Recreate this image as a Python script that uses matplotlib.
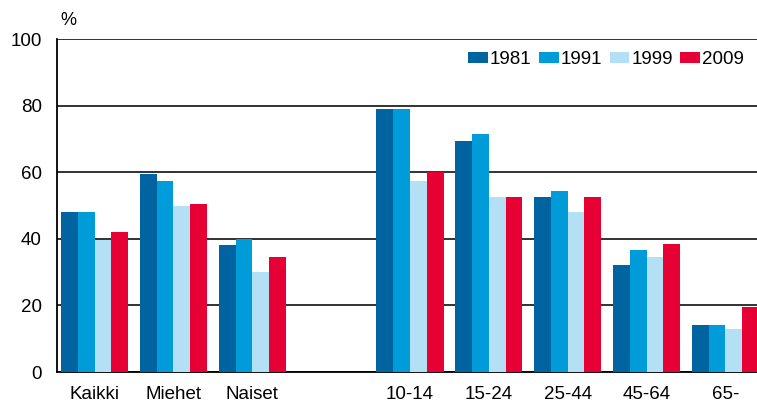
import numpy as np
import matplotlib.pyplot as plt

plt.rcParams['font.family'] = ['Liberation Sans', 'DejaVu Sans']

categories = ["Kaikki", "Miehet", "Naiset", "10-14", "15-24", "25-44", "45-64", "65-"]
slots = [0, 1, 2, 4, 5, 6, 7, 8]
years = ["1981", "1991", "1999", "2009"]
v1981 = [48, 59.5, 38, 79, 69.5, 52.5, 32, 14]
v1991 = [48, 57.5, 40, 79, 71.5, 54.5, 36.5, 14]
v1999 = [39.5, 50, 30, 57.5, 52.5, 48, 34.5, 13]
v2009 = [42, 50.5, 34.5, 60, 52.5, 52.5, 38.5, 19.5]
colors = ["#0064a0", "#009cd9", "#b3e0f5", "#e60033"]

fig = plt.figure(figsize=(7.57, 4.03), dpi=100)
ax = fig.add_axes([0.0753, 0.0769, 0.9247, 0.8263])

x = np.array(slots, dtype=float)
w = 0.2125
for i, (vals, c, lab) in enumerate(zip([v1981, v1991, v1999, v2009], colors, years)):
    ax.bar(x + (i - 1.5) * w, vals, width=w, color=c, label=lab, linewidth=0, zorder=3)

ax.set_ylim(0, 100)
ax.set_xlim(-0.476, 8.4)
ax.set_yticks([0, 20, 40, 60, 80, 100])
ax.yaxis.grid(True, color="#222222", linewidth=1.3, zorder=0)
ax.set_xticks(x)
ax.set_xticklabels(categories)
ax.tick_params(axis="x", length=0, pad=10, labelsize=13.5)
ax.tick_params(axis="y", length=0, pad=11, labelsize=13.5)
for s in ["top", "right"]:
    ax.spines[s].set_visible(False)
ax.spines["left"].set_linewidth(1.3)
ax.spines["bottom"].set_linewidth(1.3)

ax.text(0.005, 1.03, "%", transform=ax.transAxes, fontsize=13, ha="left", va="bottom")

leg = ax.legend(ncol=4, loc="upper right", bbox_to_anchor=(0.997, 0.998), frameon=False,
                fontsize=13.5, handlelength=1.05, handleheight=0.55, handletextpad=0.1,
                columnspacing=0.4, borderaxespad=0.2)

fig.savefig("out.png", dpi=100)
